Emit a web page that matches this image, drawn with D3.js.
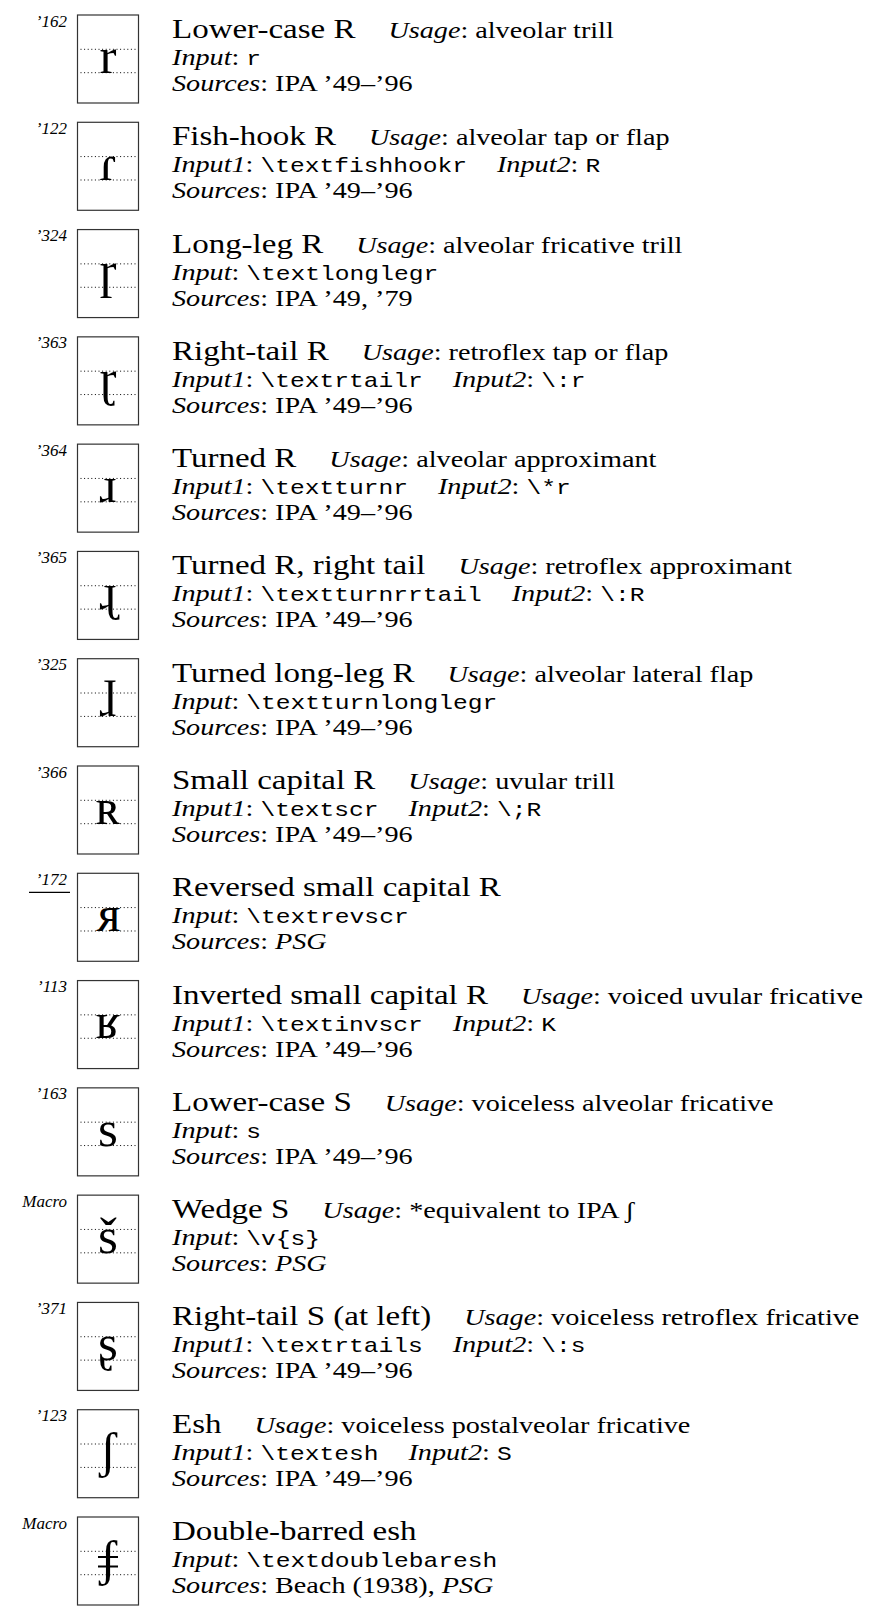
<!DOCTYPE html>
<html><head><meta charset="utf-8">
<script src="https://cdn.jsdelivr.net/npm/d3@7"></script>
<style>body{margin:0;background:#fff}</style>
</head><body><svg id="c" width="876" height="1607"></svg>
<script>
const codes = ["’162","’122","’324","’363","’364","’365","’325","’366","’172","’113","’163","Macro","’371","’123","Macro"];
const underlined = [false,false,false,false,false,false,false,false,true,false,false,false,false,false,false];
const glyphs = ["r","ɾ","ɼ","ɽ","ɹ","ɻ","ɺ","ʀ","ʀ","ʁ","s","š","ʂ","ʃ","ʃ"];
const mirrored = [false,false,false,false,false,false,false,false,true,false,false,false,false,false,false];
const doubleBarred = [false,false,false,false,false,false,false,false,false,false,false,false,false,false,true];
const names = ["Lower-case R","Fish-hook R","Long-leg R","Right-tail R","Turned R","Turned R, right tail","Turned long-leg R","Small capital R","Reversed small capital R","Inverted small capital R","Lower-case S","Wedge S","Right-tail S (at left)","Esh","Double-barred esh"];
const usages = ["alveolar trill","alveolar tap or flap","alveolar fricative trill","retroflex tap or flap","alveolar approximant","retroflex approximant","alveolar lateral flap","uvular trill","","voiced uvular fricative","voiceless alveolar fricative","*equivalent to IPA ʃ","voiceless retroflex fricative","voiceless postalveolar fricative",""];
const input1 = ["r","\\textfishhookr","\\textlonglegr","\\textrtailr","\\textturnr","\\textturnrrtail","\\textturnlonglegr","\\textscr","\\textrevscr","\\textinvscr","s","\\v{s}","\\textrtails","\\textesh","\\textdoublebaresh"];
const input2 = ["","R","","\\:r","\\*r","\\:R","","\\;R","","K","","","\\:s","S",""];
const sources = [
  [["IPA ’49–’96",false]],
  [["IPA ’49–’96",false]],
  [["IPA ’49, ’79",false]],
  [["IPA ’49–’96",false]],
  [["IPA ’49–’96",false]],
  [["IPA ’49–’96",false]],
  [["IPA ’49–’96",false]],
  [["IPA ’49–’96",false]],
  [["PSG",true]],
  [["IPA ’49–’96",false]],
  [["IPA ’49–’96",false]],
  [["PSG",true]],
  [["IPA ’49–’96",false]],
  [["IPA ’49–’96",false]],
  [["Beach (1938), ",false],["PSG",true]]
];

const SERIF = "'Liberation Serif','DejaVu Serif',serif";
const MONO = "'Liberation Mono','DejaVu Sans Mono',monospace";
const n = names.length;
const rows = d3.range(n);
const y = d3.scaleLinear().domain([0, n - 1]).range([15, 1517]);
const boxX = 77.5, boxW = 61, boxH = 88;
const xHeightLine = 34.3, baseLine = 57.7;
const textX = 172;
const stretch = 1.2;
const titleSize = 27.5, bodySize = 23.5, monoSize = 20.5;

const svg = d3.select("#c");
const g = svg.selectAll("g.row").data(rows).join("g").attr("class","row")
  .attr("transform", i => `translate(0,${y(i)})`);

// code labels
g.append("text").attr("x", 67).attr("y", 11.5).attr("text-anchor","end")
  .attr("font-family", SERIF).attr("font-style","italic").attr("font-size", 17)
  .text(i => codes[i]);
g.filter(i => underlined[i]).append("line")
  .attr("x1", 29).attr("x2", 70).attr("y1", 19).attr("y2", 19)
  .attr("stroke","#000").attr("stroke-width",1.2);

// box
g.append("rect").attr("x", boxX).attr("y", 0).attr("width", boxW).attr("height", boxH)
  .attr("fill","none").attr("stroke","#333").attr("stroke-width",1.2);
[xHeightLine, baseLine].forEach(ly => {
  g.append("line").attr("x1", boxX + 3).attr("x2", boxX + boxW - 2)
    .attr("y1", ly).attr("y2", ly)
    .attr("stroke","#000").attr("stroke-width",1).attr("stroke-dasharray","1 2.6");
});

// glyph
const cx = boxX + boxW / 2;
g.append("text")
  .attr("transform", i => `translate(${cx},${baseLine}) scale(${mirrored[i] ? -1 : 1},1)`)
  .attr("text-anchor","middle").attr("font-family", SERIF).attr("font-size", 51)
  .text(i => glyphs[i]);
g.filter(i => doubleBarred[i]).each(function() {
  const s = d3.select(this);
  [40, 49.5].forEach(by => s.append("line").attr("x1", cx - 10).attr("x2", cx + 10)
    .attr("y1", by).attr("y2", by).attr("stroke","#000").attr("stroke-width",2));
});

function textLine(yy) {
  return g.append("text").attr("transform", `translate(${textX},${yy}) scale(${stretch},1)`)
    .attr("font-family", SERIF).attr("font-size", bodySize).attr("fill","#000")
    .attr("xml:space","preserve");
}

// line 1
const t1 = textLine(23);
t1.append("tspan").attr("font-size", titleSize).text(i => names[i]);
t1.filter(i => usages[i]).append("tspan").attr("dx", 27.5).attr("font-style","italic").text("Usage");
t1.filter(i => usages[i]).append("tspan").text(i => ": " + usages[i]);

// line 2
const t2 = textLine(50);
t2.append("tspan").attr("font-style","italic").text(i => input2[i] ? "Input1" : "Input");
t2.append("tspan").text(": ");
t2.append("tspan").attr("font-family", MONO).attr("font-size", monoSize).text(i => input1[i]);
t2.filter(i => input2[i]).append("tspan").attr("dx", 25).attr("font-style","italic").text("Input2");
t2.filter(i => input2[i]).append("tspan").text(": ");
t2.filter(i => input2[i]).append("tspan").attr("font-family", MONO).attr("font-size", monoSize).text(i => input2[i]);

// line 3
const t3 = textLine(76);
t3.append("tspan").attr("font-style","italic").text("Sources");
t3.append("tspan").text(": ");
t3.each(function(i) {
  const s = d3.select(this);
  sources[i].forEach(([txt, it]) => s.append("tspan").attr("font-style", it ? "italic" : "normal").text(txt));
});
</script></body></html>
